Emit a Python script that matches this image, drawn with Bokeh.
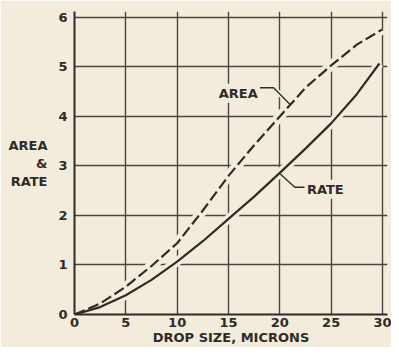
from bokeh.plotting import figure
from bokeh.models import FixedTicker, Label, Range1d
from bokeh.embed import file_html
from bokeh.resources import INLINE

# ---- data ----
area_size = [0, 2.5, 5, 7.5, 10, 12.5, 15, 17.5, 20, 22.5, 25, 27.5, 30]
area = [0, 0.22, 0.56, 0.98, 1.44, 2.1, 2.8, 3.42, 4.0, 4.58, 5.03, 5.45, 5.76]
rate_size = [0, 2.5, 5, 7.5, 10, 12.5, 15, 17.5, 20, 22.5, 25, 27.5, 29.7]
rate = [0, 0.15, 0.39, 0.7, 1.07, 1.48, 1.93, 2.38, 2.86, 3.35, 3.86, 4.45, 5.07]
x_ticks = [0, 5, 10, 15, 20, 25, 30]
y_ticks = [0, 1, 2, 3, 4, 5, 6]
x_title = "DROP SIZE, MICRONS"
y_title = "AREA\n&\nRATE"
area_leader_x = [18.07, 19.4, 21.0]
area_leader_y = [4.58, 4.58, 4.24]
rate_leader_x = [19.94, 21.46, 22.41]
rate_leader_y = [2.86, 2.57, 2.57]

BG = "#f3ecdd"
INK = "#2f2b27"
GRID = "#4a443e"
FONT = "DejaVu Sans"

p = figure(width=391, height=347, output_backend="svg", toolbar_location=None,
           x_range=Range1d(0, 30.49), y_range=Range1d(0, 6.12),
           min_border_left=74, min_border_right=4, min_border_top=11,
           min_border_bottom=31)
p.background_fill_color = BG
p.border_fill_color = BG
p.outline_line_color = None

for ax in (p.xaxis[0], p.yaxis[0]):
    ax.axis_line_color = INK
    ax.axis_line_width = 2
    ax.major_tick_line_color = None
    ax.minor_tick_line_color = None
    ax.major_tick_out = 0
    ax.major_tick_in = 0
    ax.major_label_text_font = FONT
    ax.major_label_text_font_style = "bold"
    ax.major_label_text_font_size = "13px"
    ax.major_label_text_color = INK
    ax.axis_label_text_font = FONT
    ax.axis_label_text_font_style = "bold"
    ax.axis_label_text_font_size = "13px"
    ax.axis_label_text_color = INK
p.xaxis[0].ticker = FixedTicker(ticks=x_ticks)
p.yaxis[0].ticker = FixedTicker(ticks=y_ticks)
p.xaxis[0].major_label_standoff = 3
p.yaxis[0].major_label_standoff = 7
p.xaxis[0].axis_label = x_title
p.xaxis[0].axis_label_standoff = 0
p.yaxis[0].axis_label = y_title
p.yaxis[0].axis_label_orientation = "horizontal"
p.yaxis[0].axis_label_standoff = 8
p.yaxis[0].axis_label_text_align = "center"

p.xgrid[0].ticker = FixedTicker(ticks=x_ticks)
p.ygrid[0].ticker = FixedTicker(ticks=y_ticks)
for g in (p.xgrid[0], p.ygrid[0]):
    g.grid_line_color = GRID
    g.grid_line_width = 1.4
    g.grid_line_alpha = 1.0

# halos that break the grid around the curves
p.line(area_size, area, line_color=BG, line_width=10)
p.line(rate_size, rate, line_color=BG, line_width=9)
p.line(area_leader_x, area_leader_y, line_color=BG, line_width=5)
p.line(rate_leader_x, rate_leader_y, line_color=BG, line_width=5)

p.line(rate_size, rate, line_color=INK, line_width=2.2)
p.line(area_size, area, line_color=INK, line_width=2.2, line_dash="11 4")
p.line(area_leader_x, area_leader_y, line_color=INK, line_width=1.3)
p.line(rate_leader_x, rate_leader_y, line_color=INK, line_width=1.3)

def lab(x, y, t, align="center", size="13px"):
    p.add_layout(Label(x=x, y=y, text=t, text_align=align, text_baseline="middle",
                       text_font=FONT, text_font_style="bold", text_font_size=size,
                       text_color=INK, background_fill_color=BG, padding=2))

lab(15.95, 4.47, "AREA")
lab(24.43, 2.53, "RATE")

open("out.html", "w").write(file_html(p, INLINE))
